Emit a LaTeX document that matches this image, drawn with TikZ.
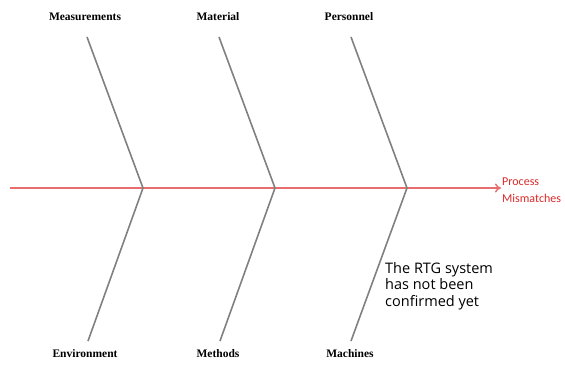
\documentclass[tikz,border=0pt]{standalone}
\usepackage{fontspec}
\setmainfont{Liberation Serif}
\newfontfamily\calib{Carlito}
\newfontfamily\noteface{Open Sans}
\usetikzlibrary{arrows.meta}
\definecolor{spinered}{RGB}{232,110,110}
\definecolor{labred}{RGB}{220,40,40}
\definecolor{bonegray}{RGB}{128,128,128}
\tikzset{
  bone/.style={draw=bonegray, line width=1.6pt},
  spineline/.style={draw=spinered, line width=1.6pt, -{To[length=6pt,width=9pt,line width=1.4pt]}},
  cat/.style={font=\bfseries\fontsize{11.5}{13}\selectfont, inner sep=0pt, anchor=base},
}
\begin{document}
\begin{tikzpicture}[x=1pt,y=-1pt]
\useasboundingbox (0,0) rectangle (565,365);
% spine
\coordinate (s0) at (10,188);
\coordinate (head) at (501,188);
\draw[spineline] (s0) -- (head);
% junctions
\coordinate (j1) at (143,188);
\coordinate (j2) at (275,188);
\coordinate (j3) at (407,188);
% top ends
\coordinate (t1) at (87,37);
\coordinate (t2) at (219,37);
\coordinate (t3) at (351,37);
% bottom ends
\coordinate (b1) at (88,341);
\coordinate (b2) at (220,341);
\coordinate (b3) at (351,341);
\draw[bone] (t1) -- (j1) -- (b1);
\draw[bone] (t2) -- (j2) -- (b2);
\draw[bone] (t3) -- (j3) -- (b3);
% labels
\node[cat] (meas) at (85,20) {Measurements};
\node[cat] (mat) at (218,20) {Material};
\node[cat] (pers) at (349,20) {Personnel};
\node[cat] (env) at (85,357) {Environment};
\node[cat] (meth) at (218,357) {Methods};
\node[cat] (mach) at (350,357) {Machines};
\node[font=\calib\fontsize{12}{17}\selectfont, text=labred, align=left, anchor=base west, inner sep=0pt] (eff) at (502,202) {Process\\Mismatches};
\node[font=\noteface\fontsize{14.5}{16.5}\selectfont, align=left, anchor=base west, inner sep=0pt] (note) at (385,306) {The RTG system\\has not been\\confirmed yet};
\end{tikzpicture}
\end{document}
